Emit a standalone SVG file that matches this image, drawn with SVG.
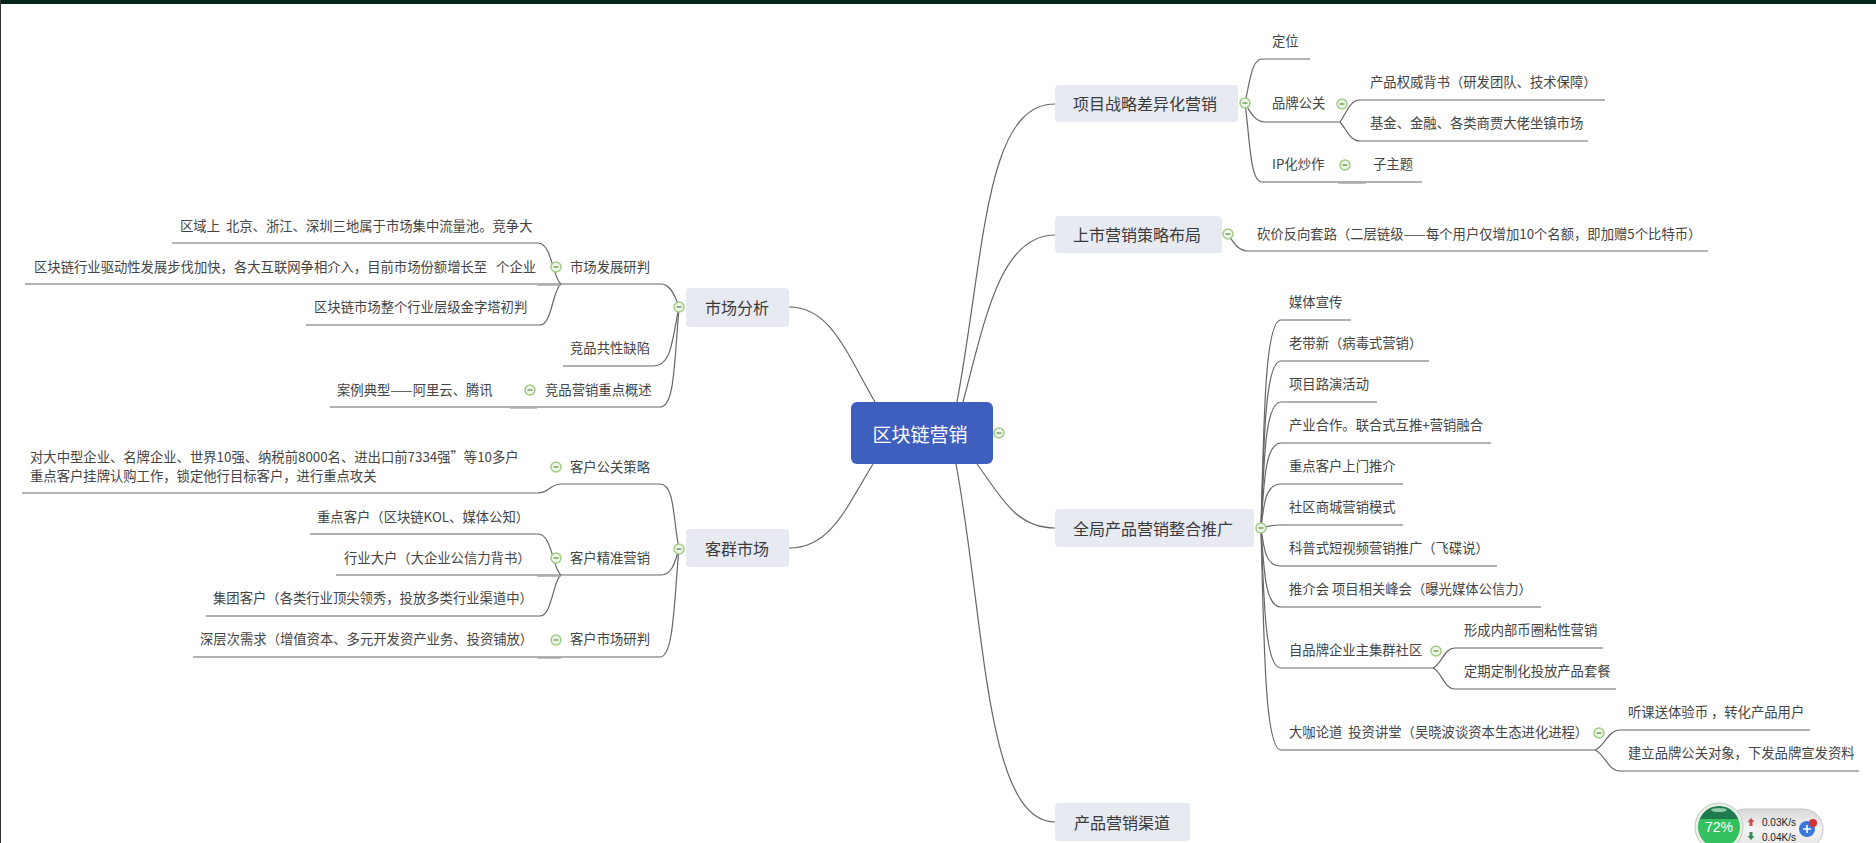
<svg xmlns="http://www.w3.org/2000/svg" width="1876" height="843" viewBox="0 0 1876 843">
<style>
text{font-family:"Noto Sans CJK SC","Liberation Sans",sans-serif;white-space:pre;dominant-baseline:central}
.t{font-size:13.33px;fill:#444;transform:translateY(-1px)}
.n{font-size:16px;fill:#3a3a3a;text-anchor:middle}
.r{font-size:19px;fill:#fff;text-anchor:middle}
.box{fill:#e8eaf2}
.c path{fill:none;stroke:#666;stroke-width:1.2}
.c path.s{stroke:#aaa;stroke-width:1.5}
.w{font-family:"Liberation Sans",sans-serif}
</style>
<defs>
<g id="tg"><circle r="5" fill="#eef6e6" stroke="#9fcb85" stroke-width="1.5"/><path d="M-2.5 0H2.5" stroke="#5a8a4a" stroke-width="1.2"/></g>
<linearGradient id="pill" x1="0" y1="0" x2="0" y2="1"><stop offset="0" stop-color="#d8d8d8"/><stop offset="0.5" stop-color="#f4f4f4"/><stop offset="1" stop-color="#e4e4e4"/></linearGradient>
<linearGradient id="ball" x1="0" y1="0" x2="0" y2="1"><stop offset="0" stop-color="#1f7a4d"/><stop offset="0.3" stop-color="#1f7a4d"/><stop offset="0.31" stop-color="#35c060"/><stop offset="1" stop-color="#35c060"/></linearGradient>
</defs>
<rect width="1876" height="843" fill="#fff"/>
<rect width="1876" height="4" fill="#03261a"/>
<rect width="1" height="843" fill="#333"/>

<g id="connectors" class="c">
<path d="M875 402C845 350 830 307 789 307"/>
<path d="M873 464C845 510 830 548 789 548"/>
<path d="M957 402C985 250 985 104 1055 104"/>
<path d="M963 402C985 320 1000 235 1055 235"/>
<path d="M977 464C1000 495 1015 528 1055 528"/>
<path d="M956 464C985 620 985 822 1055 822"/>

<path d="M679 307C675 295 670 284 661 284H25"/>
<path d="M561 284C553 280 552 243 538 243H172"/>
<path d="M561 284C553 288 552 325 540 325H306"/>
<path d="M679 307C672 340 672 366 653 366H563"/>
<path d="M679 307C674 370 674 407 660 407H330"/>

<path d="M679 549C673 520 675 484 660 484H561C550 484 549 493 538 493H22"/>
<path d="M679 549C675 562 672 575 661 575H336"/>
<path d="M561 575C553 570 552 534 538 534H310"/>
<path d="M561 575C553 580 552 616 540 616H206"/>
<path d="M679 549C674 600 674 657 660 657H193"/>

<path d="M1245 103C1250 80 1252 59 1262 59H1310"/>
<path d="M1245 103C1250 112 1255 122 1265 122H1340"/>
<path d="M1245 103C1250 140 1250 182 1262 182H1422"/>
<path d="M1340 122C1347 112 1350 100 1360 100H1605"/>
<path d="M1340 122C1347 130 1350 141 1360 141H1588"/>
<path d="M1228 234C1233 242 1238 251 1248 251H1708"/>

<path d="M1261 528C1264 403 1266 320 1281 320H1351"/>
<path d="M1261 528C1264 428 1266 361 1281 361H1429"/>
<path d="M1261 528C1264 452 1266 402 1281 402H1377"/>
<path d="M1261 528C1264 477 1266 443 1281 443H1491"/>
<path d="M1261 528C1264 502 1266 484 1281 484H1403"/>
<path d="M1261 528C1268 526 1272 525 1281 525H1403"/>
<path d="M1261 528C1264 551 1266 566 1281 566H1497"/>
<path d="M1261 528C1264 575 1266 607 1281 607H1541"/>
<path d="M1261 528C1264 612 1266 668 1281 668H1433"/>
<path d="M1261 528C1264 661 1266 750 1281 750H1595"/>
<path d="M1433 668C1442 664 1444 648 1455 648H1603"/>
<path d="M1433 668C1442 672 1444 689 1455 689H1616"/>
<path d="M1595 750C1605 746 1608 730 1620 730H1810"/>
<path d="M1595 750C1605 754 1608 771 1620 771H1859"/>

<path class="s" d="M537 285H561"/>
<path class="s" d="M510 408H537"/>
<path class="s" d="M537 576H561"/>
<path class="s" d="M537 658H561"/>
<path class="s" d="M1338 183H1366"/>
</g>

<g id="root"><rect x="851" y="402" width="142" height="62" rx="6" fill="#3f5fbe"/><text class="r" x="920" y="433">区块链营销</text><use href="#tg" x="999" y="433"/></g>

<g id="market"><rect class="box" x="686" y="288" width="103" height="39" rx="4"/><text class="n" x="737" y="307">市场分析</text><use href="#tg" x="679" y="307"/></g>
<g id="market-trend"><text class="t" x="570" y="267">市场发展研判</text><use href="#tg" x="556" y="267"/></g>
<g id="market-1"><text class="t" x="180" y="226">区域上  北京、浙江、深圳三地属于市场集中流量池。竞争大</text></g>
<g id="market-2"><text class="t" x="34" y="267">区块链行业驱动性发展步伐加快，各大互联网争相介入，目前市场份额增长至   个企业</text></g>
<g id="market-3"><text class="t" x="314" y="307">区块链市场整个行业层级金字塔初判</text></g>
<g id="market-defect"><text class="t" x="570" y="348">竞品共性缺陷</text></g>
<g id="market-focus"><text class="t" x="545" y="390">竞品营销重点概述</text><use href="#tg" x="530" y="390"/></g>
<g id="market-case"><text class="t" x="337" y="390">案例典型——阿里云、腾讯</text></g>

<g id="customer"><rect class="box" x="686" y="529" width="103" height="38" rx="4"/><text class="n" x="737" y="548">客群市场</text><use href="#tg" x="679" y="549"/></g>
<g id="cust-pr"><text class="t" x="570" y="467">客户公关策略</text><use href="#tg" x="556" y="467"/></g>
<g id="cust-pr-1"><text class="t" x="30" y="457">对大中型企业、名牌企业、世界10强、纳税前8000名、进出口前7334强”等10多户</text><text class="t" x="30" y="476">重点客户挂牌认购工作，锁定他行目标客户，进行重点攻关</text></g>
<g id="cust-target"><text class="t" x="570" y="558">客户精准营销</text><use href="#tg" x="556" y="558"/></g>
<g id="cust-t1"><text class="t" x="317" y="517">重点客户（区块链KOL、媒体公知）</text></g>
<g id="cust-t2"><text class="t" x="344" y="558">行业大户（大企业公信力背书）</text></g>
<g id="cust-t3"><text class="t" x="213" y="598">集团客户（各类行业顶尖领秀，投放多类行业渠道中）</text></g>
<g id="cust-research"><text class="t" x="570" y="639">客户市场研判</text><use href="#tg" x="556" y="640"/></g>
<g id="cust-r1"><text class="t" x="200" y="639">深层次需求（增值资本、多元开发资产业务、投资铺放）</text></g>

<g id="strategy"><rect class="box" x="1055" y="85" width="183" height="37" rx="4"/><text class="n" x="1145" y="103">项目战略差异化营销</text><use href="#tg" x="1245" y="103"/></g>
<g id="s-position"><text class="t" x="1272" y="41">定位</text></g>
<g id="s-brand"><text class="t" x="1272" y="103">品牌公关</text><use href="#tg" x="1342" y="104"/></g>
<g id="s-b1"><text class="t" x="1370" y="82">产品权威背书（研发团队、技术保障）</text></g>
<g id="s-b2"><text class="t" x="1370" y="123">基金、金融、各类商贾大佬坐镇市场</text></g>
<g id="s-ip"><text class="t" x="1272" y="164">IP化炒作</text><use href="#tg" x="1345" y="165"/></g>
<g id="s-ip1"><text class="t" x="1373" y="164">子主题</text></g>

<g id="launch"><rect class="box" x="1055" y="216" width="167" height="37" rx="4"/><text class="n" x="1137" y="234">上市营销策略布局</text><use href="#tg" x="1228" y="234"/></g>
<g id="l-1"><text class="t" x="1257" y="234">砍价反向套路（二层链级——每个用户仅增加10个名额，即加赠5个比特币）</text></g>

<g id="global"><rect class="box" x="1055" y="509" width="199" height="38" rx="4"/><text class="n" x="1153" y="528">全局产品营销整合推广</text><use href="#tg" x="1261" y="528"/></g>
<g id="g1"><text class="t" x="1289" y="302">媒体宣传</text></g>
<g id="g2"><text class="t" x="1289" y="343">老带新（病毒式营销）</text></g>
<g id="g3"><text class="t" x="1289" y="384">项目路演活动</text></g>
<g id="g4"><text class="t" x="1289" y="425">产业合作。联合式互推+营销融合</text></g>
<g id="g5"><text class="t" x="1289" y="466">重点客户上门推介</text></g>
<g id="g6"><text class="t" x="1289" y="507">社区商城营销模式</text></g>
<g id="g7"><text class="t" x="1289" y="548">科普式短视频营销推广（飞碟说）</text></g>
<g id="g8"><text class="t" x="1289" y="589">推介会 项目相关峰会（曝光媒体公信力）</text></g>
<g id="g9"><text class="t" x="1289" y="650">自品牌企业主集群社区</text><use href="#tg" x="1436" y="651"/></g>
<g id="g9-1"><text class="t" x="1464" y="630">形成内部币圈粘性营销</text></g>
<g id="g9-2"><text class="t" x="1464" y="671">定期定制化投放产品套餐</text></g>
<g id="g10"><text class="t" x="1289" y="732">大咖论道  投资讲堂（吴晓波谈资本生态进化进程）</text><use href="#tg" x="1599" y="733"/></g>
<g id="g10-1"><text class="t" x="1628" y="712">听课送体验币 ，转化产品用户</text></g>
<g id="g10-2"><text class="t" x="1628" y="753">建立品牌公关对象，下发品牌宣发资料</text></g>

<g id="channel"><rect class="box" x="1055" y="803" width="135" height="38" rx="4"/><text class="n" x="1122" y="822">产品营销渠道</text></g>

<rect x="1725" y="809" width="98" height="40" rx="20" fill="url(#pill)" stroke="#c4c4c4"/>
<circle cx="1719" cy="827" r="24" fill="#e8efe8" stroke="#c0c8c0"/>
<circle cx="1719" cy="827" r="21" fill="url(#ball)"/>
<ellipse cx="1719" cy="810" rx="8" ry="2" fill="#8fc9a8"/>
<text class="w" x="1719" y="827" font-size="14" fill="#fff" text-anchor="middle">72%</text>
<path d="M1751 818l3.5 4h-2v4h-3v-4h-2z" fill="#c8504a"/>
<path d="M1751 840l3.500-4h-2v-4h-3v4h-2z" fill="#3c8a5a"/>
<text class="w" x="1762" y="822" font-size="10" fill="#222">0.03K/s</text>
<text class="w" x="1762" y="837" font-size="10" fill="#222">0.04K/s</text>
<circle cx="1807" cy="829" r="8" fill="#3b78d8"/>
<path d="M1803 829h8M1807 825v8" stroke="#fff" stroke-width="1.6"/>
<circle cx="1813" cy="823" r="4" fill="#d83030"/>
</svg>
